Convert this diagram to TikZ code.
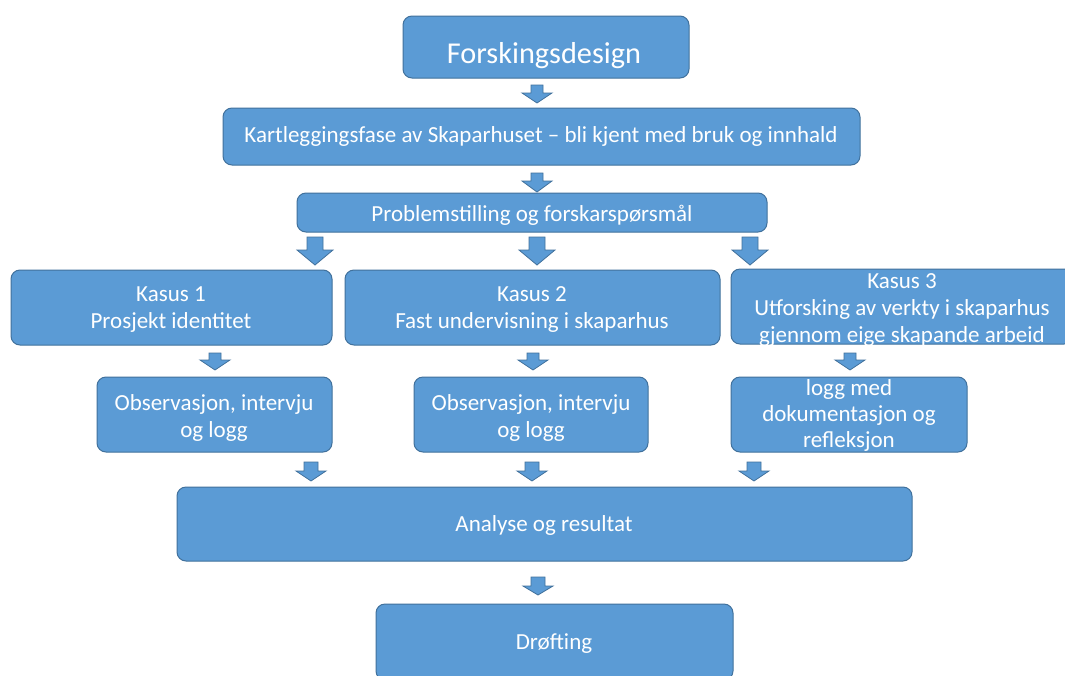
\documentclass[tikz,border=0pt]{standalone}
\usepackage{fontspec}
\setmainfont{Carlito}
\definecolor{boxfill}{HTML}{5B9BD5}
\definecolor{boxline}{HTML}{41719C}
\newcommand{\barrow}[6]{% cx, ytop, yhead, ytip, shaft half, head half
  \draw[arrowshape] (#1-#5,#2) -- (#1+#5,#2) -- (#1+#5,#3) -- (#1+#6,#3) -- (#1,#4) -- (#1-#6,#3) -- (#1-#5,#3) -- cycle;}
\begin{document}
\begin{tikzpicture}[x=1pt,y=-1pt,
  box/.style={draw=boxline, fill=boxfill, line width=1pt, rounded corners=9pt, inner sep=0pt, outer sep=0pt},
  arrowshape/.style={draw=boxline, fill=boxfill, line width=0.8pt, line join=miter},
  txt/.style={text=white, inner sep=0pt, anchor=base, align=center, font=\fontsize{23}{27}\selectfont},
  bigtxt/.style={text=white, inner sep=0pt, anchor=base, font=\fontsize{30.3}{36}\selectfont}]
\useasboundingbox[fill=white] (0,0) rectangle (1065,675);
\clip (0,0) rectangle (1065,675);
% boxes
\node[box, minimum width=286pt, minimum height=62pt] (fd) at (546,47) {};
\node[box, minimum width=637pt, minimum height=57pt] (kf) at (541.5,136.5) {};
\node[box, minimum width=470pt, minimum height=39pt] (ps) at (532,212.5) {};
\node[box, minimum width=321pt, minimum height=75pt] (k1) at (171.5,307.5) {};
\node[box, minimum width=375pt, minimum height=75pt] (k2) at (532.5,307.5) {};
\node[box, minimum width=342pt, minimum height=75pt] (k3) at (902,306.5) {};
\node[box, minimum width=235pt, minimum height=75pt] (o1) at (214.5,414.5) {};
\node[box, minimum width=234pt, minimum height=75pt] (o2) at (531,414.5) {};
\node[box, minimum width=236pt, minimum height=75pt] (o3) at (849,414.5) {};
\node[box, minimum width=735pt, minimum height=74pt] (an) at (544.5,524) {};
\node[box, minimum width=357pt, minimum height=76pt] (dr) at (554.5,642) {};
% texts (base anchor = baseline of last line)
\node[bigtxt] (fdt) at (544,63) {Forskingsdesign};
\node[txt] (kft) at (541,142) {Kartleggingsfase av Skaparhuset – bli kjent med bruk og innhald};
\node[txt] (pst) at (532,221) {Problemstilling og forskarspørsmål};
\node[txt] (k1t) at (171,328) {Kasus 1\\Prosjekt identitet};
\node[txt] (k2t) at (532,328) {Kasus 2\\Fast undervisning i skaparhus};
\node[txt] (k3t) at (902,342) {Kasus 3\\Utforsking av verkty i skaparhus\\gjennom eige skapande arbeid};
\node[txt] (o1t) at (214,437) {Observasjon, intervju\\og logg};
\node[txt] (o2t) at (531,437) {Observasjon, intervju\\og logg};
\node[txt, font=\fontsize{23}{26}\selectfont] (o3t) at (849,447) {logg med\\dokumentasjon og\\refleksjon};
\node[txt] (ant) at (544,531) {Analyse og resultat};
\node[txt] (drt) at (554,649) {Drøfting};
% block arrows
\barrow{537}{85}{93}{103}{6}{15}
\barrow{537}{173}{181}{192}{6}{15}
\barrow{315}{237}{250}{265}{8}{18}
\barrow{537}{237}{250}{265}{8}{18}
\barrow{750}{237}{250}{265}{8}{18}
\barrow{215}{353}{360}{370}{6}{15}
\barrow{533}{353}{360}{370}{6}{15}
\barrow{850}{353}{360}{370}{6}{15}
\barrow{311}{462}{471}{481}{7}{15}
\barrow{532}{462}{471}{481}{7}{15}
\barrow{754}{462}{471}{481}{7}{15}
\barrow{538}{577}{586}{595}{7}{15}
\end{tikzpicture}
\end{document}
